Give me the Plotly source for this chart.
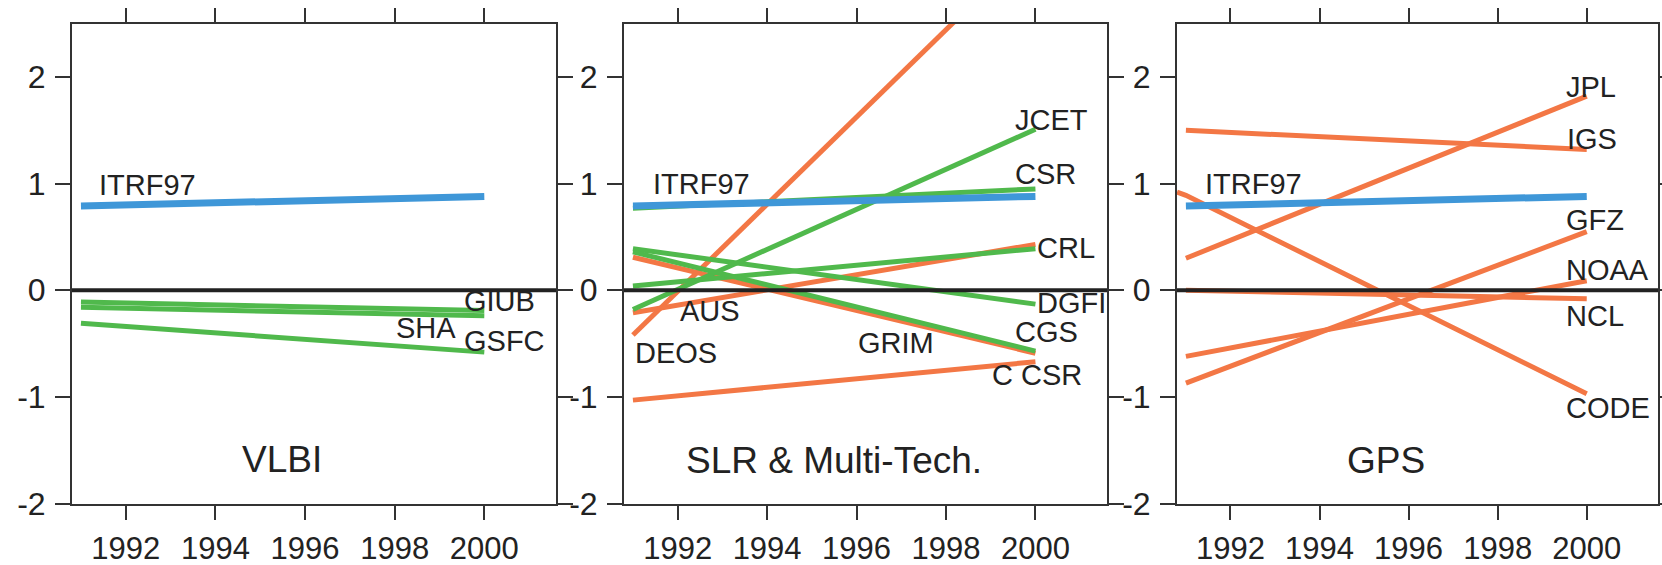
import plotly.graph_objects as go

# ---------------- data ----------------
YEARS = [1991, 2000]
X_TICKS = [1992, 1994, 1996, 1998, 2000]
X_TICK_TEXT = ["1992", "1994", "1996", "1998", "2000"]
Y_TICKS = [-2, -1, 0, 1, 2]
Y_TICK_TEXT = ["-2", "-1", "0", "1", "2"]

ITRF97 = [0.79, 0.88]

# VLBI (green)
VLBI_GIUB = [-0.11, -0.19]
VLBI_SHA = [-0.16, -0.24]
VLBI_GSFC = [-0.31, -0.58]

# SLR & Multi-Tech.
SLR_DEOS = [-0.42, 3.26]      # orange
SLR_AUS = [-0.21, 0.43]       # orange
SLR_GRIM = [0.31, -0.59]      # orange
SLR_CCSR = [-1.03, -0.67]     # orange
SLR_JCET = [-0.18, 1.51]      # green
SLR_CSR = [0.77, 0.95]        # green
SLR_CRL = [0.04, 0.39]        # green
SLR_DGFI = [0.39, -0.13]      # green
SLR_CGS = [0.36, -0.57]       # green

# GPS (orange)
GPS_JPL = [0.30, 1.82]
GPS_IGS = [1.50, 1.32]
GPS_CODE_X = [1990.8, 1991.0, 2000]
GPS_CODE = [0.92, 0.89, -0.97]
GPS_GFZ = [-0.87, 0.55]
GPS_NOAA = [-0.62, 0.09]
GPS_NCL = [0.0, -0.08]

# labels: (text, year, value, anchor)
VLBI_LABELS = [("ITRF97", 1991.37, 0.99, "left"), ("GIUB", 1999.52, -0.10, "left"),
               ("SHA", 1998.0, -0.35, "left"), ("GSFC", 1999.52, -0.48, "left")]
SLR_LABELS = [("ITRF97", 1991.42, 1.0, "left"), ("JCET", 1999.51, 1.60, "left"),
              ("CSR", 1999.51, 1.09, "left"), ("CRL", 2000.02, 0.395, "left"),
              ("DGFI", 2000.02, -0.12, "left"), ("CGS", 1999.51, -0.39, "left"),
              ("C CSR", 1999.01, -0.79, "left"), ("GRIM", 1996.02, -0.49, "left"),
              ("DEOS", 1991.02, -0.59, "left"), ("AUS", 1992.03, -0.19, "left")]
GPS_LABELS = [("ITRF97", 1991.40, 1.0, "left"), ("JPL", 1999.52, 1.91, "left"),
              ("IGS", 1999.54, 1.42, "left"), ("GFZ", 1999.52, 0.66, "left"),
              ("NOAA", 1999.52, 0.19, "left"), ("NCL", 1999.52, -0.245, "left"),
              ("CODE", 1999.52, -1.10, "left")]
PANEL_TITLES = [("VLBI", 1995.48, -1.59), ("SLR & Multi-Tech.", 1995.5, -1.60), ("GPS", 1995.5, -1.60)]

# ---------------- style ----------------
BLUE = "#3f97d8"
GREEN = "#50b94c"
ORANGE = "#f37745"
INK = "#222222"
FRAME = "#333333"
FONT = "Liberation Sans, Arial, Helvetica, sans-serif"

X_RANGE = [1990.8, 2001.6]
Y_RANGE = [-2, 2.5]
X_DOMAINS = [[72 / 1662, 556 / 1662], [624 / 1662, 1107 / 1662], [1177 / 1662, 1658 / 1662]]
Y_DOMAIN = [1 - 503.6 / 565, 1 - 23.6 / 565]

fig = go.Figure()


def add_line(xs, ys, color, width, axis_idx):
    sfx = "" if axis_idx == 1 else str(axis_idx)
    fig.add_trace(go.Scatter(x=xs, y=ys, mode="lines", line=dict(color=color, width=width),
                             xaxis="x" + sfx, yaxis="y" + sfx, showlegend=False, hoverinfo="skip"))


# Panel 1: VLBI
for ys in (VLBI_GIUB, VLBI_SHA, VLBI_GSFC):
    add_line(YEARS, ys, GREEN, 5, 1)
add_line(YEARS, ITRF97, BLUE, 7, 1)

# Panel 2: SLR & Multi-Tech.
for ys in (SLR_DEOS, SLR_AUS, SLR_GRIM, SLR_CCSR):
    add_line(YEARS, ys, ORANGE, 5, 2)
for ys in (SLR_JCET, SLR_CSR, SLR_CRL, SLR_DGFI, SLR_CGS):
    add_line(YEARS, ys, GREEN, 5, 2)
add_line(YEARS, ITRF97, BLUE, 7, 2)

# Panel 3: GPS
for ys in (GPS_JPL, GPS_IGS, GPS_GFZ, GPS_NOAA, GPS_NCL):
    add_line(YEARS, ys, ORANGE, 5, 3)
add_line(GPS_CODE_X, GPS_CODE, ORANGE, 5, 3)
add_line(YEARS, ITRF97, BLUE, 7, 3)

layout = dict(width=1662, height=565, margin=dict(l=0, r=0, t=0, b=0),
              paper_bgcolor="white", plot_bgcolor="white", template="none",
              font=dict(family=FONT, color=INK), showlegend=False)

for i in range(3):
    sfx = "" if i == 0 else str(i + 1)
    layout["xaxis" + sfx] = dict(
        domain=X_DOMAINS[i], range=X_RANGE, tickvals=X_TICKS, ticktext=X_TICK_TEXT,
        ticks="outside", ticklen=14, tickwidth=2, tickcolor=FRAME,
        showline=True, linecolor=FRAME, linewidth=2, mirror="ticks",
        showgrid=False, zeroline=False, automargin=False,
        tickfont=dict(size=31, color=INK, family=FONT), ticklabelstandoff=2,
        anchor="y" + sfx, fixedrange=True)
    layout["yaxis" + sfx] = dict(
        domain=Y_DOMAIN, range=Y_RANGE, tickvals=Y_TICKS, ticktext=Y_TICK_TEXT,
        ticks="outside", ticklen=15, tickwidth=2, tickcolor=FRAME,
        showline=True, linecolor=FRAME, linewidth=2, mirror="ticks",
        showgrid=False, zeroline=False, automargin=False,
        tickfont=dict(size=32, color=INK, family=FONT), ticklabelstandoff=3,
        anchor="x" + sfx, fixedrange=True)

fig.update_layout(**layout)

# zero reference line on top of the traces
for i in range(3):
    sfx = "" if i == 0 else str(i + 1)
    fig.add_shape(type="line", xref="x" + sfx + " domain", yref="y" + sfx,
                  x0=0, x1=1, y0=0, y1=0, line=dict(color=INK, width=4), layer="above")

annotations = []
for i, labels in enumerate((VLBI_LABELS, SLR_LABELS, GPS_LABELS)):
    sfx = "" if i == 0 else str(i + 1)
    for text, xv, yv, anc in labels:
        annotations.append(dict(x=xv, y=yv, xref="x" + sfx, yref="y" + sfx, text=text,
                                showarrow=False, xanchor=anc, yanchor="middle",
                                font=dict(size=29, color=INK, family=FONT), borderpad=0))
    t, xv, yv = PANEL_TITLES[i]
    annotations.append(dict(x=xv, y=yv, xref="x" + sfx, yref="y" + sfx, text=t,
                            showarrow=False, xanchor="center", yanchor="middle",
                            font=dict(size=37, color=INK, family=FONT)))
fig.update_layout(annotations=annotations)

fig.write_html("out.html")
